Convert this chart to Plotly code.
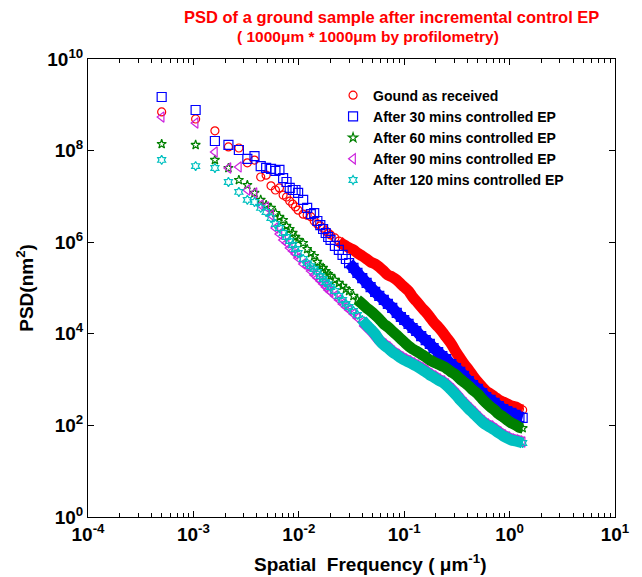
import plotly.graph_objects as go

# spatial frequency (1/um), shared by all five scans
freq = [0.0005, 0.00105, 0.0016, 0.00215, 0.0027, 0.00325, 0.0038, 0.00435, 0.0049,
        0.00545, 0.006, 0.00655, 0.0071, 0.00765, 0.0082, 0.00875, 0.0093, 0.00985,
        0.011, 0.012, 0.013, 0.014, 0.015, 0.016, 0.017, 0.018, 0.019, 0.02,
        0.022, 0.024, 0.026, 0.028, 0.03, 0.033, 0.036, 0.04, 0.044, 0.048,
        0.053, 0.058, 0.064, 0.07, 0.077, 0.085, 0.093, 0.1, 0.11, 0.12, 0.13,
        0.145, 0.16, 0.175, 0.19, 0.21, 0.23, 0.25, 0.28, 0.31, 0.34, 0.37,
        0.41, 0.45, 0.5, 0.55, 0.6, 0.66, 0.72, 0.79, 0.87, 0.95, 1.04, 1.14,
        1.24, 1.33]

# PSD values (nm^2)
psd_received = [7.0e8, 4.9e8, 2.7e8, 1.2e8, 1.14e8, 5.4e7, 6.2e7, 2.65e7, 2.9e7,
                1.7e7, 1.38e7, 1.53e7, 1.07e7, 9.7e6, 7.9e6, 6.8e6, 5.9e6, 5.0e6,
                4.1e6, 3.9e6, 3.6e6, 2.9e6, 2.5e6, 2.26e6, 2.04e6, 1.76e6, 1.59e6,
                1.44e6, 1.24e6, 1.06e6, 9.1e5, 8.3e5, 7.5e5, 6.8e5, 5.8e5, 5.0e5,
                4.3e5, 3.7e5, 3.34e5, 2.88e5, 2.35e5, 1.92e5, 1.74e5, 1.5e5, 1.22e5,
                1.05e5, 8.6e4, 6.4e4, 5.2e4, 3.85e4, 3.0e4, 2.33e4, 1.81e4, 1.41e4,
                1.1e4, 8.5e3, 6.0e3, 4.0e3, 2.93e3, 2.19e3, 1.62e3, 1.2e3, 8.8e2,
                6.9e2, 5.6e2, 4.85e2, 4.2e2, 3.6e2, 3.24e2, 2.94e2, 2.65e2, 2.52e2,
                2.28e2, 2.17e2]
psd_30 = [1.48e9, 7.7e8, 1.62e8, 1.33e8, 1.03e8, 6.6e7, 7.6e7, 4.6e7, 4.2e7,
          4.0e7, 3.6e7, 3.8e7, 2.5e7, 2.06e7, 1.53e7, 1.38e7, 1.38e7, 1.19e7,
          8.4e6, 5.6e6, 4.1e6, 4.3e6, 2.9e6, 2.37e6, 1.94e6, 1.59e6, 1.3e6,
          1.12e6, 8.3e5, 6.8e5, 5.3e5, 4.3e5, 3.5e5, 2.74e5, 2.13e5, 1.65e5,
          1.29e5, 1.05e5, 8.2e4, 6.7e4, 5.5e4, 4.5e4, 3.7e4, 2.85e4, 2.33e4,
          2.0e4, 1.64e4, 1.34e4, 1.15e4, 8.9e3, 7.3e3, 6.0e3, 4.9e3, 4.0e3,
          3.27e3, 2.82e3, 2.19e3, 1.79e3, 1.47e3, 1.2e3, 9.3e2, 7.6e2, 6.25e2,
          5.1e2, 4.17e2, 3.6e2, 3.09e2, 2.65e2, 2.28e2, 2.06e2, 1.87e2, 1.69e2,
          1.53e2, 1.46e2]
psd_60 = [1.39e8, 1.33e8, 6.25e7, 4.17e7, 2.28e7, 1.77e7, 1.19e7, 8.4e6, 6.5e6,
          5.6e6, 4.34e6, 3.56e6, 3.05e6, 2.26e6, 1.94e6, 1.59e6, 1.3e6, 1.12e6,
          9.6e5, 7.1e5, 5.8e5, 5.0e5, 3.7e5, 3.0e5, 2.74e5, 2.35e5, 2.02e5,
          1.83e5, 1.5e5, 1.29e5, 1.11e5, 9.5e4, 8.6e4, 6.7e4, 5.5e4, 4.5e4,
          3.66e4, 3.15e4, 2.58e4, 2.11e4, 1.64e4, 1.41e4, 1.15e4, 9.4e3, 7.7e3,
          6.6e3, 5.4e3, 4.66e3, 4.2e3, 3.6e3, 3.12e3, 2.68e3, 2.42e3, 2.19e3,
          1.98e3, 1.79e3, 1.47e3, 1.26e3, 1.03e3, 8.8e2, 7.25e2, 5.9e2, 4.85e2,
          3.78e2, 3.09e2, 2.52e2, 2.17e2, 1.77e2, 1.53e2, 1.31e2, 1.13e2, 1.02e2,
          9.0e1, 8.7e1]
psd_90 = [5.4e8, 4.0e8, 9.3e7, 4.17e7, 4.4e7, 1.38e7, 1.19e7, 6.5e6, 5.9e6,
          3.93e6, 2.04e6, 1.51e6, 1.12e6, 9.6e5, 7.5e5, 6.4e5, 5.5e5, 4.5e5,
          3.34e5, 3.0e5, 2.35e5, 1.92e5, 1.65e5, 1.42e5, 1.22e5, 1.05e5, 9.05e4,
          8.2e4, 6.7e4, 5.5e4, 4.5e4, 3.85e4, 3.3e4, 2.71e4, 2.21e4, 1.81e4,
          1.48e4, 1.21e4, 9.4e3, 7.3e3, 6.0e3, 5.15e3, 4.2e3, 3.6e3, 3.12e3,
          2.82e3, 2.55e3, 2.3e3, 2.08e3, 1.79e3, 1.54e3, 1.33e3, 1.2e3, 1.03e3,
          9.3e2, 8.0e2, 6.25e2, 4.85e2, 3.78e2, 3.09e2, 2.4e2, 1.96e2, 1.53e2,
          1.25e2, 1.07e2, 9.7e1, 8.4e1, 7.2e1, 6.2e1, 5.6e1, 5.05e1, 4.8e1,
          4.57e1, 4.34e1]
psd_120 = [6.25e7, 4.6e7, 4.17e7, 2.06e7, 1.25e7, 8.4e6, 7.55e6, 5.6e6, 4.57e6,
           3.38e6, 2.5e6, 2.04e6, 1.59e6, 1.3e6, 1.06e6, 8.7e5, 7.1e5, 5.8e5,
           4.3e5, 3.5e5, 3.0e5, 2.6e5, 2.24e5, 1.83e5, 1.57e5, 1.35e5, 1.22e5,
           1.05e5, 8.6e4, 6.7e4, 5.5e4, 4.5e4, 3.85e4, 3.15e4, 2.58e4, 2.0e4,
           1.56e4, 1.27e4, 9.9e3, 7.3e3, 5.7e3, 4.9e3, 4.0e3, 3.44e3, 2.96e3,
           2.68e3, 2.42e3, 2.19e3, 1.98e3, 1.7e3, 1.47e3, 1.26e3, 1.14e3, 9.8e2,
           8.8e2, 7.6e2, 5.9e2, 4.6e2, 3.6e2, 2.94e2, 2.28e2, 1.87e2, 1.46e2,
           1.19e2, 1.02e2, 9.0e1, 7.95e1, 6.8e1, 5.9e1, 5.3e1, 4.8e1, 4.57e1,
           4.34e1, 4.13e1]

series_names = ["Gound as received", "After 30 mins controlled EP",
                "After 60 mins controlled EP", "After 90 mins controlled EP",
                "After 120 mins controlled EP"]

x_ticks = [1e-4, 1e-3, 1e-2, 1e-1, 1, 10]
x_ticktext = ["10<sup>-4</sup>", "10<sup>-3</sup>", "10<sup>-2</sup>",
              "10<sup>-1</sup>", "10<sup>0</sup>", "10<sup>1</sup>"]
y_ticks = [1, 1e2, 1e4, 1e6, 1e8, 1e10]
y_ticktext = ["10<sup>0</sup>", "10<sup>2</sup>", "10<sup>4</sup>",
              "10<sup>6</sup>", "10<sup>8</sup>", "10<sup>10</sup>"]

# colour, symbol, marker size, index where the dense band starts
styles = [
    ("#ff0000", "circle-open", 8, 29),
    ("#0000ff", "square-open", 9, 32),
    ("#008000", "star-open", 7, 34),
    ("#cc22dd", "triangle-left-open", 9, 35),
    ("#00c0c0", "hexagram-open", 7, 35),
]

all_psd = [psd_received, psd_30, psd_60, psd_90, psd_120]

fig = go.Figure()
for name, psd, (col, sym, size, start) in zip(series_names, all_psd, styles):
    # thick band where the points overlap into a solid ribbon
    fig.add_trace(go.Scatter(x=freq[start:], y=psd[start:], mode='lines',
                             line=dict(color=col, width=11, shape='spline', smoothing=0.8),
                             showlegend=False, hoverinfo='skip'))
    fig.add_trace(go.Scatter(x=freq, y=psd, mode='markers', name=name,
                             marker=dict(symbol=sym, size=size, color=col,
                                         line=dict(width=1.2, color=col))))

bold = dict(family="Liberation Sans, Arial", color="black", weight="bold")
red_bold = dict(family="Liberation Sans, Arial", color="red", weight="bold")

fig.update_xaxes(type='log', range=[-4, 1], tickvals=x_ticks, ticktext=x_ticktext,
                 ticks='inside', ticklen=6, tickcolor='black', showline=True,
                 linecolor='black', linewidth=1, mirror='ticks', showgrid=False,
                 zeroline=False, tickfont=dict(size=19, **bold),
                 minor=dict(ticks='inside', ticklen=4, tickcolor='black', dtick='D1'))
fig.update_yaxes(type='log', range=[0, 10], tickvals=y_ticks, ticktext=y_ticktext,
                 ticks='inside', ticklen=6, tickcolor='black', showline=True,
                 linecolor='black', linewidth=1, mirror='ticks', showgrid=False,
                 zeroline=False, tickfont=dict(size=19, **bold))

# page body adds an 8px margin, so the figure is a bit smaller than the window
fig.update_layout(
    width=634, height=569,
    margin=dict(l=80, r=23, t=51, b=60),
    plot_bgcolor='white', paper_bgcolor='white',
    legend=dict(x=0.465, y=0.955, xanchor='left', yanchor='top',
                bgcolor='rgba(0,0,0,0)', font=dict(size=14, **bold)),
    annotations=[
        dict(text="PSD of a ground sample after incremental control EP",
             x=0.576, y=1.092, xref='paper', yref='paper', showarrow=False,
             yanchor='middle', font=dict(size=16.5, **red_bold)),
        dict(text="( 1000\u03bcm * 1000\u03bcm by profilometry)",
             x=0.531, y=1.05, xref='paper', yref='paper', showarrow=False,
             yanchor='middle', font=dict(size=15.5, **red_bold)),
        dict(text="Spatial\u00a0 Frequency ( \u03bcm<sup>-1</sup>)",
             x=0.536, y=-0.1, xref='paper', yref='paper', showarrow=False,
             yanchor='middle', font=dict(size=19, **bold)),
        dict(text="PSD(nm<sup>2</sup>)", textangle=-90,
             x=-0.12, y=0.5, xref='paper', yref='paper', showarrow=False,
             xanchor='center', font=dict(size=19, **bold)),
    ],
)

fig.write_html("out.html")
